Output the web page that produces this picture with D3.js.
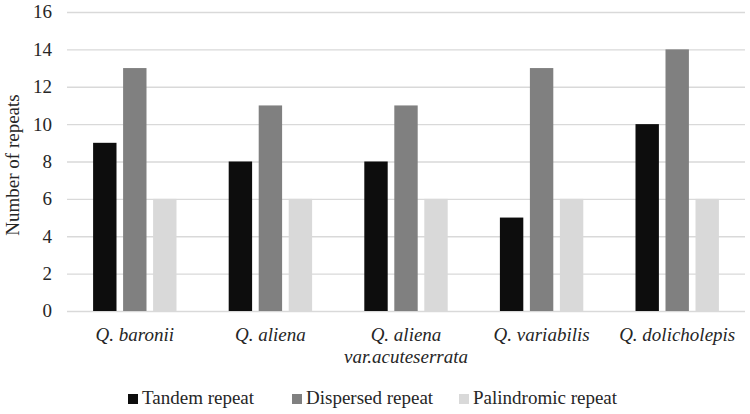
<!DOCTYPE html>
<html><head><meta charset="utf-8">
<script src="https://cdn.jsdelivr.net/npm/d3@7"></script>
</head><body style="margin:0;background:#fff">
<svg id="c" width="750" height="414"></svg>
<script>
const categories = ["Q. baronii", "Q. aliena", "Q. aliena\nvar.acuteserrata", "Q. variabilis", "Q. dolicholepis"];
const seriesNames = ["Tandem repeat", "Dispersed repeat", "Palindromic repeat"];
const tandem = [9, 8, 8, 5, 10];
const dispersed = [13, 11, 11, 13, 14];
const palindromic = [6, 6, 6, 6, 6];
const yTicks = [0, 2, 4, 6, 8, 10, 12, 14, 16];
const colors = ["#0d0d0d", "#808080", "#d9d9d9"];
const seriesValues = [tandem, dispersed, palindromic];

(function () {
const FONT = "Liberation Serif";
const TXT = "#262626";
const svg = d3.select("#c");
const mLeft = 67, mRight = 745, mTop = 12, mBottom = 311;
const x = d3.scaleBand().domain(categories).range([mLeft, mRight]).padding(0);
const xs = d3.scaleBand().domain(seriesNames).range([0, x.bandwidth()]).paddingInner(0.22).paddingOuter(0.87);
const y = d3.scaleLinear().domain([0, 16]).range([mBottom, mTop]);

const grid = d3.axisLeft(y).tickValues(yTicks).tickSize(-(mRight - mLeft)).tickFormat("");
const gg = svg.append("g").attr("transform", `translate(${mLeft},0)`).call(grid);
gg.select(".domain").remove();
gg.selectAll("line").attr("stroke", "#d9d9d9").attr("stroke-width", 1.3);

svg.selectAll("text.ytick").data(yTicks).join("text").attr("class", "ytick")
  .attr("x", mLeft - 15).attr("y", d => y(d)).attr("dy", "0.34em")
  .attr("text-anchor", "end").attr("font-family", FONT).attr("font-size", 19)
  .attr("fill", TXT).text(d => d3.format("d")(d));

seriesNames.forEach((s, si) => {
  svg.append("g").selectAll("rect").data(categories).join("rect")
    .attr("x", c => x(c) + xs(s))
    .attr("width", xs.bandwidth())
    .attr("y", (c, i) => y(seriesValues[si][i]))
    .attr("height", (c, i) => y(0) - y(seriesValues[si][i]))
    .attr("fill", colors[si]);
});

const xl = svg.selectAll("text.xlab").data(categories).join("text").attr("class", "xlab")
  .attr("text-anchor", "middle")
  .attr("font-family", FONT).attr("fill", TXT)
  .attr("font-size", 19).attr("font-style", "italic")
  .attr("x", c => x(c) + x.bandwidth() / 2)
  .attr("y", 341);
xl.each(function(c) {
  const lines = c.split("\n");
  d3.select(this).selectAll("tspan").data(lines).join("tspan")
    .attr("x", x(c) + x.bandwidth() / 2)
    .attr("dy", (d, i) => i === 0 ? 0 : 22)
    .text(d => d);
});

svg.append("text").attr("transform", "translate(19,165) rotate(-90)")
  .attr("font-family", FONT).attr("fill", TXT)
  .attr("text-anchor", "middle").attr("font-size", 19).text("Number of repeats");

const legX = [128, 292, 459];
svg.selectAll("rect.leg").data(seriesNames).join("rect").attr("class", "leg")
  .attr("x", (d, i) => legX[i]).attr("y", 394).attr("width", 10).attr("height", 10)
  .attr("fill", (d, i) => colors[i]);
svg.selectAll("text.leg").data(seriesNames).join("text").attr("class", "leg")
  .attr("x", (d, i) => legX[i] + 14).attr("y", 404)
  .attr("font-family", FONT).attr("fill", TXT)
  .attr("font-size", 19).text(d => d);
})();
</script>
</body></html>
